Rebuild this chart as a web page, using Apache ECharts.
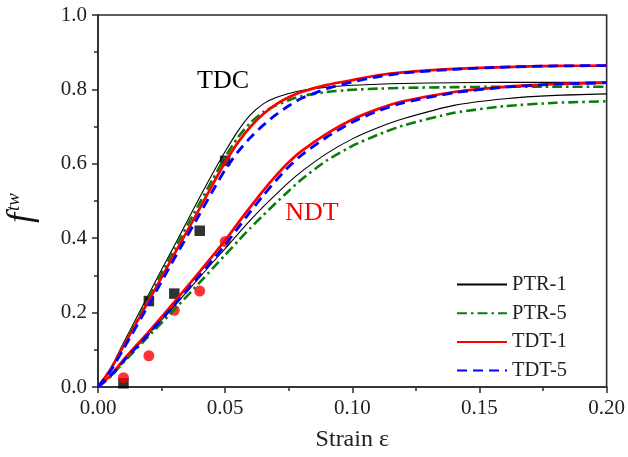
<!DOCTYPE html>
<html>
<head>
<meta charset="utf-8">
<script src="https://cdn.jsdelivr.net/npm/echarts@6/dist/echarts.min.js"></script>
<style>
  html, body { margin: 0; padding: 0; background: #fff; }
  #chart { width: 628px; height: 457px; }
</style>
</head>
<body>
<div id="chart"></div>
<script>
// Strain sample points shared by all model curves
const strain = [0, 0.005, 0.01, 0.02, 0.03, 0.04, 0.045, 0.05, 0.055, 0.06, 0.065, 0.07, 0.075, 0.08, 0.09, 0.10, 0.11, 0.12, 0.14, 0.16, 0.18, 0.20];

// TDC model curves
const ptr1TDC = [0, 0.05, 0.118, 0.25, 0.38, 0.51, 0.573, 0.633, 0.688, 0.732, 0.761, 0.778, 0.789, 0.797, 0.806, 0.811, 0.814, 0.816, 0.818, 0.819, 0.819, 0.82];
const ptr5TDC = [0, 0.048, 0.113, 0.24, 0.37, 0.495, 0.557, 0.618, 0.671, 0.711, 0.739, 0.757, 0.771, 0.782, 0.793, 0.799, 0.802, 0.804, 0.806, 0.807, 0.807, 0.807];
const tdt1TDC = [0, 0.048, 0.11, 0.232, 0.357, 0.48, 0.543, 0.604, 0.657, 0.70, 0.734, 0.76, 0.779, 0.793, 0.812, 0.825, 0.838, 0.846, 0.855, 0.86, 0.863, 0.864];
const tdt5TDC = [0, 0.044, 0.102, 0.222, 0.345, 0.465, 0.526, 0.584, 0.632, 0.671, 0.704, 0.732, 0.756, 0.776, 0.802, 0.82, 0.834, 0.844, 0.854, 0.86, 0.863, 0.864];

// NDT model curves
const ptr1NDT = [0, 0.03, 0.07, 0.143, 0.218, 0.295, 0.334, 0.372, 0.411, 0.449, 0.485, 0.518, 0.55, 0.579, 0.628, 0.667, 0.697, 0.721, 0.757, 0.775, 0.784, 0.788];
const ptr5NDT = [0, 0.028, 0.066, 0.137, 0.208, 0.281, 0.318, 0.355, 0.392, 0.428, 0.462, 0.495, 0.527, 0.558, 0.609, 0.648, 0.678, 0.703, 0.737, 0.755, 0.764, 0.768];
const tdt1NDT = [0, 0.032, 0.073, 0.149, 0.228, 0.31, 0.352, 0.394, 0.44, 0.485, 0.528, 0.568, 0.604, 0.634, 0.681, 0.719, 0.747, 0.768, 0.793, 0.807, 0.814, 0.818];
const tdt5NDT = [0, 0.03, 0.069, 0.143, 0.22, 0.3, 0.341, 0.382, 0.427, 0.472, 0.515, 0.555, 0.592, 0.623, 0.672, 0.712, 0.742, 0.764, 0.791, 0.806, 0.814, 0.818];

// Measured points
const expStrain = [0.01, 0.02, 0.03, 0.04, 0.05];
const expTDC = [0.01, 0.231, 0.251, 0.42, 0.608];
const expNDT = [0.025, 0.084, 0.206, 0.258, 0.391];

// Axis ticks
const xTicks = [0, 0.05, 0.10, 0.15, 0.20];
const yTicks = [0, 0.2, 0.4, 0.6, 0.8, 1.0];
const legendNames = ['PTR-1', 'PTR-5', 'TDT-1', 'TDT-5'];

const FONT = '"Liberation Serif", "Times New Roman", serif';
const pairs = ys => strain.map((s, i) => [s, ys[i]]);

const styles = {
  'PTR-1': { color: '#000000', width: 1.1, type: 'solid' },
  'PTR-5': { color: '#0a7d0a', width: 2.6, type: [10, 4, 2.5, 4] },
  'TDT-1': { color: '#ff0000', width: 2.7, type: 'solid' },
  'TDT-5': { color: '#0000ff', width: 2.8, type: [10, 6] }
};

function lineSeries(name, ys) {
  const st = styles[name];
  return {
    name: name,
    type: 'line',
    data: pairs(ys),
    symbol: 'none',
    smooth: 0.2,
    color: st.color,
    lineStyle: { color: st.color, width: st.width, type: st.type },
    z: 3
  };
}

const chart = echarts.init(document.getElementById('chart'), null, { renderer: 'canvas' });

chart.setOption({
  animation: false,
  backgroundColor: '#ffffff',
  grid: {
    left: 98, right: 21, top: 15, bottom: 63,
    show: true, borderColor: '#2a2a2a', borderWidth: 1.6, backgroundColor: 'transparent'
  },
  legend: {
    data: legendNames,
    orient: 'vertical',
    left: 451, top: 269,
    itemWidth: 50, itemHeight: 14, itemGap: 7.7,
    itemStyle: { opacity: 0 },
    textStyle: { fontFamily: FONT, fontSize: 20.5, color: '#222' }
  },
  xAxis: {
    type: 'value',
    min: 0, max: 0.2, interval: 0.05,
    axisLine: { lineStyle: { color: '#2a2a2a', width: 1.6 } },
    axisTick: { inside: false, length: 6, lineStyle: { color: '#2a2a2a', width: 1.5 } },
    minorTick: { show: true, splitNumber: 2, length: 4, lineStyle: { color: '#2a2a2a', width: 1.5 } },
    splitLine: { show: false },
    axisLabel: {
      margin: 11, fontFamily: FONT, fontSize: 21, color: '#222',
      formatter: v => xTicks.some(t => Math.abs(t - v) < 1e-9) ? v.toFixed(2) : ''
    },
    name: 'Strain ε',
    nameLocation: 'middle',
    nameGap: 41,
    nameTextStyle: { fontFamily: FONT, fontSize: 24, color: '#222' }
  },
  yAxis: {
    type: 'value',
    min: 0, max: 1, interval: 0.2,
    axisLine: { lineStyle: { color: '#2a2a2a', width: 1.6 } },
    axisTick: { inside: false, length: 6, lineStyle: { color: '#2a2a2a', width: 1.5 } },
    minorTick: { show: true, splitNumber: 2, length: 4, lineStyle: { color: '#2a2a2a', width: 1.5 } },
    splitLine: { show: false },
    axisLabel: {
      margin: 11, fontFamily: FONT, fontSize: 21, color: '#222',
      formatter: v => yTicks.some(t => Math.abs(t - v) < 1e-9) ? v.toFixed(1) : ''
    }
  },
  graphic: [
    {
      type: 'text', x: 223, y: 81,
      style: { text: 'TDC', fontFamily: FONT, fontSize: 26, fill: '#000', align: 'center', verticalAlign: 'middle' }
    },
    {
      type: 'text', x: 312, y: 213,
      style: { text: 'NDT', fontFamily: FONT, fontSize: 26, fill: '#ff0000', align: 'center', verticalAlign: 'middle' }
    },
    {
      type: 'text', x: 22, y: 208, rotation: Math.PI / 2,
      style: {
        text: '{f|f}{s|tw}',
        align: 'center', verticalAlign: 'middle',
        rich: {
          f: { fontFamily: FONT, fontStyle: 'italic', fontSize: 36, fill: '#111', lineHeight: 36, verticalAlign: 'bottom' },
          s: { fontFamily: FONT, fontStyle: 'italic', fontSize: 19, fill: '#111', lineHeight: 36, verticalAlign: 'top', padding: [0, 0, 0, 2] }
        }
      }
    }
  ],
  series: [
    {
      name: 'TDC exp', type: 'scatter', symbol: 'rect', symbolSize: 10.5,
      itemStyle: { color: '#000' }, z: 2,
      data: expStrain.map((s, i) => [s, expTDC[i]])
    },
    {
      name: 'NDT exp', type: 'scatter', symbol: 'circle', symbolSize: 11,
      itemStyle: { color: '#ff0000' }, z: 2,
      data: expStrain.map((s, i) => [s, expNDT[i]])
    },
    lineSeries('PTR-1', ptr1TDC),
    lineSeries('PTR-1', ptr1NDT),
    lineSeries('PTR-5', ptr5TDC),
    lineSeries('PTR-5', ptr5NDT),
    lineSeries('TDT-1', tdt1TDC),
    lineSeries('TDT-1', tdt1NDT),
    lineSeries('TDT-5', tdt5TDC),
    lineSeries('TDT-5', tdt5NDT)
  ]
});
</script>
</body>
</html>
